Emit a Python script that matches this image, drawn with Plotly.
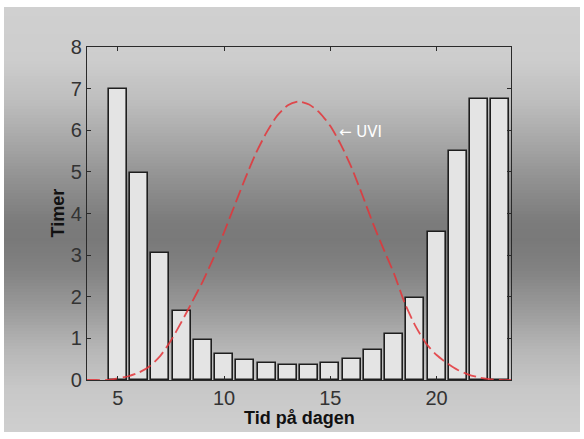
import numpy as np
import plotly.graph_objects as go

# ---- data ----
hours = [5, 6, 7, 8, 9, 10, 11, 12, 13, 14, 15, 16, 17, 18, 19, 20, 21, 22, 23]
timer = [7.0, 4.97, 3.05, 1.65, 0.97, 0.62, 0.48, 0.40, 0.37, 0.37, 0.40, 0.50,
         0.72, 1.10, 1.97, 3.55, 5.50, 6.75, 6.75]

uvi_t = [3.55, 4.0, 4.5, 5.0, 5.5, 6.0, 6.5, 7.0, 7.5, 8.0, 8.5, 9.0, 9.5, 10.0,
         10.5, 11.0, 11.5, 12.0, 12.5, 13.0, 13.5, 14.0, 14.5, 15.0, 15.5, 16.0,
         16.5, 17.0, 17.5, 18.0, 18.5, 19.0, 19.5, 20.0, 20.5, 21.0, 21.5, 22.0,
         22.5, 23.0, 23.5]
uvi_v = [0.0, 0.0, 0.0, 0.04, 0.09, 0.18, 0.33, 0.58, 0.95, 1.40, 1.88, 2.37,
         2.93, 3.55, 4.20, 4.85, 5.45, 5.95, 6.35, 6.60, 6.69, 6.62, 6.42, 6.10,
         5.65, 5.10, 4.45, 3.77, 3.15, 2.55, 1.85, 1.30, 0.88, 0.60, 0.40, 0.24,
         0.13, 0.06, 0.02, 0.0, 0.0]

y_ticks = [0, 1, 2, 3, 4, 5, 6, 7, 8]
x_ticks = [5, 10, 15, 20]
x_title = "Tid på dagen"
y_title = "Timer"

# ---- layout geometry (pixels) ----
W, H = 584, 439
L, R, T, B = 87, 511, 47, 380
pw, ph = R - L, B - T


def px_x(px):
    return (px - L) / pw


def px_y(py):
    return (B - py) / ph


# background gradient (grey stops by pixel row)
stop_y = [7, 60, 100, 140, 180, 220, 240, 270, 310, 350, 390, 432]
stop_g = [208, 205, 190, 168, 145, 124, 121, 130, 155, 183, 200, 207]
shapes = []
step = 3
for y0 in range(7, 432, step):
    y1 = min(y0 + step, 432)
    g = int(round(np.interp((y0 + y1) / 2, stop_y, stop_g)))
    shapes.append(dict(type="rect", xref="paper", yref="paper",
                       x0=px_x(4), x1=px_x(580), y0=px_y(y1), y1=px_y(y0),
                       fillcolor=f"rgb({g},{g},{g})", line=dict(width=0),
                       layer="below"))

fig = go.Figure()
fig.add_trace(go.Bar(x=hours, y=timer, width=0.84,
                     marker=dict(color="#e4e4e4",
                                 line=dict(color="#1e1e1e", width=1.6)),
                     hoverinfo="x+y"))
fig.add_trace(go.Scatter(x=uvi_t, y=uvi_v, mode="lines",
                         line=dict(color="rgba(228,52,56,0.85)", width=1.8,
                                   dash="13px,5px", shape="spline",
                                   smoothing=0.6)))

fig.add_annotation(x=15.33, y=5.96, xref="x", yref="y", text="← UVI",
                   showarrow=False, xanchor="left", yanchor="middle",
                   font=dict(family="DejaVu Sans, Arial", size=15,
                             color="white"))

title_font = dict(family="Liberation Sans, Arial", size=18, color="#111111")
fig.add_annotation(x=0.5, y=px_y(418), xref="paper", yref="paper",
                   text=f"<b>{x_title}</b>", showarrow=False,
                   xanchor="center", yanchor="middle", font=title_font)
fig.add_annotation(x=px_x(57), y=0.5, xref="paper", yref="paper",
                   text=f"<b>{y_title}</b>", showarrow=False, textangle=-90,
                   xanchor="center", yanchor="middle", font=title_font)

axis_common = dict(showline=True, linecolor="#2a2a2a", linewidth=1.2,
                   mirror="ticks", ticks="inside", ticklen=4,
                   tickcolor="#2a2a2a", showgrid=False, zeroline=False,
                   tickfont=dict(family="Liberation Sans, Arial", size=20,
                                 color="#333333"))

fig.update_layout(
    width=W, height=H,
    margin=dict(l=L, r=W - R, t=T, b=H - B, pad=0),
    paper_bgcolor="white",
    plot_bgcolor="rgba(0,0,0,0)",
    showlegend=False,
    shapes=shapes,
    bargap=0,
    xaxis=dict(range=[3.55, 23.5], tickvals=x_ticks, **axis_common),
    yaxis=dict(range=[0, 8], tickvals=y_ticks, **axis_common),
)

fig.write_html("out.html", config={"displayModeBar": False},
               post_script="document.body.style.margin='0px';")
